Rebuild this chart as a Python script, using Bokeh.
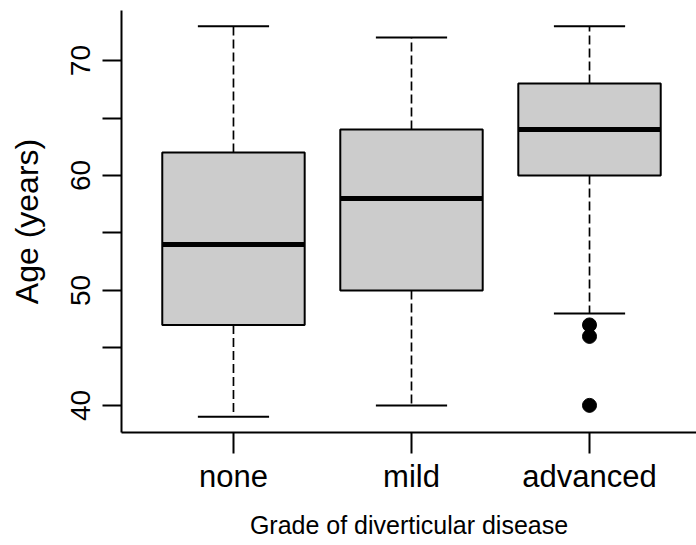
from bokeh.plotting import figure
from bokeh.models import Range1d, FixedTicker
from bokeh.embed import file_html
from bokeh.resources import INLINE

# ---- data ----
categories = ["none", "mild", "advanced"]
whisker_low = [39, 40, 48]
q1 = [47, 50, 60]
median = [54, 58, 64]
q3 = [62, 64, 68]
whisker_high = [73, 72, 73]
outlier_cat = ["advanced", "advanced", "advanced"]
outlier_age = [47, 46, 40]
y_major_ticks = [40, 50, 60, 70]
y_minor_ticks = [45, 55, 65]

# ---- layout / style ----
box_w = 0.8
cap_w = 0.4
FONT = "Liberation Sans"

pos = {c: i + 1 for i, c in enumerate(categories)}
xs = [pos[c] for c in categories]

p = figure(width=696, height=541, output_backend="svg", toolbar_location=None,
           x_range=Range1d(0.371, 3.601), y_range=Range1d(37.64, 74.36),
           min_border_left=121, min_border_right=0, min_border_top=10,
           min_border_bottom=108)
p.outline_line_color = None
p.xgrid.visible = False
p.ygrid.visible = False
p.background_fill_color = "white"
p.border_fill_color = "white"

# boxes
p.vbar(x=xs, width=box_w, bottom=q1, top=q3, fill_color="#CCCCCC",
       line_color="black", line_width=2)
# whiskers
p.segment(x0=xs, x1=xs, y0=q3, y1=whisker_high, line_color="black",
          line_width=1.7, line_dash="9 4")
p.segment(x0=xs, x1=xs, y0=q1, y1=whisker_low, line_color="black",
          line_width=1.7, line_dash="9 4")
# caps
p.segment(x0=[x - cap_w / 2 for x in xs], x1=[x + cap_w / 2 for x in xs],
          y0=whisker_high, y1=whisker_high, line_color="black", line_width=2)
p.segment(x0=[x - cap_w / 2 for x in xs], x1=[x + cap_w / 2 for x in xs],
          y0=whisker_low, y1=whisker_low, line_color="black", line_width=2)
# medians
p.segment(x0=[x - box_w / 2 for x in xs], x1=[x + box_w / 2 for x in xs],
          y0=median, y1=median, line_color="black", line_width=5,
          line_cap="butt")
# outliers
p.scatter(x=[pos[c] for c in outlier_cat], y=outlier_age, size=14,
          marker="circle", fill_color="black", line_color="black")

# x axis
xa = p.xaxis[0]
xa.ticker = FixedTicker(ticks=xs)
xa.major_label_overrides = {pos[c]: c for c in categories}
xa.axis_label = "Grade of diverticular disease"
xa.minor_tick_line_color = None
xa.major_tick_out = 21
xa.major_tick_in = 0
xa.major_tick_line_width = 2
xa.major_tick_line_color = "black"
xa.axis_line_width = 2
xa.axis_line_color = "black"
xa.major_label_text_font = FONT
xa.major_label_text_font_size = "31px"
xa.major_label_text_color = "black"
xa.major_label_standoff = 5
xa.axis_label_text_font = FONT
xa.axis_label_text_font_size = "25px"
xa.axis_label_text_font_style = "normal"
xa.axis_label_text_color = "black"
xa.axis_label_standoff = 14

# y axis
ya = p.yaxis[0]
ya.ticker = FixedTicker(ticks=y_major_ticks, minor_ticks=y_minor_ticks)
ya.axis_label = "Age (years)"
ya.major_label_orientation = "vertical"
ya.major_tick_out = 19
ya.major_tick_in = 0
ya.minor_tick_out = 19
ya.minor_tick_in = 0
ya.major_tick_line_width = 2
ya.minor_tick_line_width = 2
ya.major_tick_line_color = "black"
ya.minor_tick_line_color = "black"
ya.axis_line_width = 2
ya.axis_line_color = "black"
ya.major_label_text_font = FONT
ya.major_label_text_font_size = "28px"
ya.major_label_text_color = "black"
ya.major_label_standoff = 12
ya.axis_label_text_font = FONT
ya.axis_label_text_font_size = "32px"
ya.axis_label_text_font_style = "normal"
ya.axis_label_text_color = "black"
ya.axis_label_standoff = 24

open("out.html", "w").write(file_html(p, INLINE))
